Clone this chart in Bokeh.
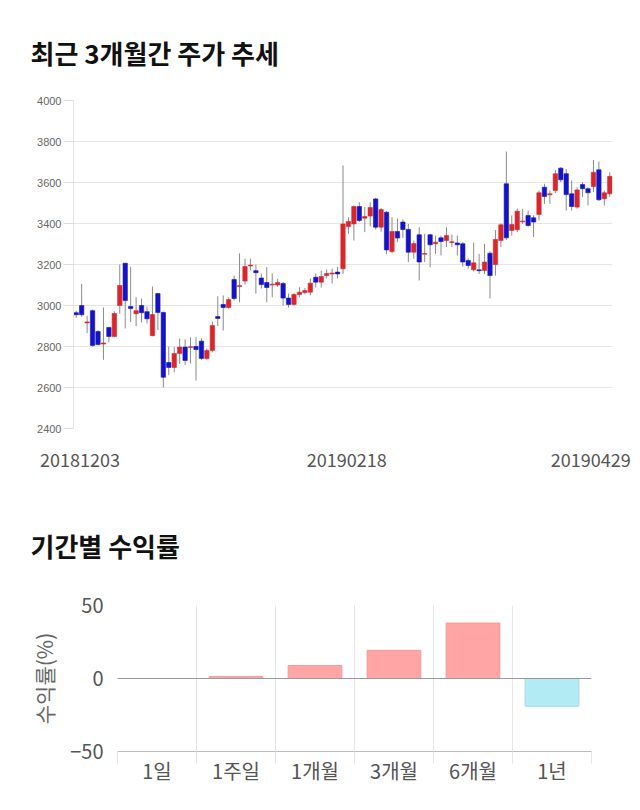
from bokeh.plotting import figure
from bokeh.layouts import column
from bokeh.models import FixedTicker, Span
from bokeh.embed import file_html
from bokeh.resources import INLINE

# ---- price data (daily candles, 2018-12-03 .. 2019-04-29) ----
opens = [2965, 3000, 2915, 2975, 2873, 2812, 2893, 2849, 3000, 3206,
         2995, 2960, 3000, 2970, 2853, 3058, 2966, 2722, 2698, 2766,
         2797, 2795, 2800, 2826, 2742, 2781, 2946, 3005, 2990, 3127,
         3093, 3119, 3193, 3170, 3134, 3112, 3100, 3100, 3107, 3036,
         3005, 3054, 3063, 3065, 3138, 3114, 3146, 3154, 3163, 3179,
         3385, 3398, 3483, 3426, 3436, 3520, 3382, 3455, 3263, 3361,
         3407, 3371, 3260, 3345, 3250, 3345, 3301, 3330, 3317, 3307,
         3305, 3301, 3220, 3174, 3174, 3171, 3255, 3200, 3317, 3594,
         3366, 3369, 3408, 3439, 3428, 3444, 3577, 3540, 3561, 3670,
         3643, 3545, 3480, 3590, 3570, 3580, 3662, 3521, 3545]
highs = [2975, 3105, 2950, 2980, 2880, 2990, 2895, 2972, 3200, 3208,
         3190, 3040, 3034, 2995, 3093, 3060, 2970, 2800, 2797, 2839,
         2835, 2845, 2845, 2840, 2790, 2922, 3045, 3049, 3040, 3146,
         3254, 3229, 3229, 3200, 3156, 3187, 3156, 3130, 3115, 3059,
         3060, 3089, 3085, 3132, 3156, 3171, 3176, 3180, 3187, 3683,
         3431, 3488, 3504, 3480, 3504, 3525, 3475, 3460, 3431, 3424,
         3420, 3398, 3317, 3382, 3350, 3350, 3341, 3341, 3382, 3346,
         3341, 3310, 3230, 3306, 3252, 3301, 3265, 3368, 3400, 3751,
         3439, 3472, 3472, 3463, 3440, 3561, 3594, 3561, 3662, 3675,
         3665, 3610, 3577, 3602, 3577, 3710, 3702, 3560, 3650]
lows = [2940, 2945, 2865, 2800, 2805, 2735, 2820, 2845, 2960, 2888,
        2920, 2900, 2917, 2912, 2850, 2880, 2600, 2660, 2675, 2715,
        2710, 2717, 2634, 2735, 2735, 2771, 2900, 2878, 2985, 3024,
        3015, 3102, 3171, 3058, 3083, 3016, 3040, 3090, 3000, 2990,
        3000, 3040, 3055, 3049, 3088, 3088, 3132, 3107, 3132, 3154,
        3350, 3317, 3407, 3358, 3387, 3370, 3360, 3250, 3255, 3309,
        3330, 3212, 3228, 3122, 3212, 3187, 3252, 3244, 3285, 3285,
        3244, 3190, 3180, 3166, 3154, 3154, 3034, 3146, 3285, 3320,
        3341, 3358, 3398, 3385, 3334, 3415, 3496, 3496, 3548, 3602,
        3463, 3463, 3472, 3529, 3488, 3553, 3510, 3488, 3530]
closes = [2955, 2955, 2920, 2805, 2810, 2817, 2849, 2961, 3098, 3024,
          2985, 2975, 2965, 2935, 2956, 2966, 2650, 2698, 2766, 2797,
          2732, 2799, 2785, 2742, 2781, 2902, 2937, 2990, 3029, 3034,
          3097, 3190, 3197, 3160, 3102, 3088, 3104, 3112, 3036, 3005,
          3054, 3065, 3073, 3109, 3114, 3141, 3156, 3158, 3154, 3398,
          3410, 3483, 3415, 3434, 3478, 3382, 3468, 3271, 3361, 3329,
          3371, 3260, 3302, 3212, 3254, 3296, 3309, 3312, 3341, 3311,
          3296, 3212, 3195, 3208, 3170, 3212, 3146, 3322, 3394, 3330,
          3395, 3460, 3412, 3390, 3407, 3550, 3532, 3545, 3643, 3613,
          3541, 3483, 3564, 3570, 3550, 3650, 3516, 3550, 3630]
price_ticks = [2400, 2600, 2800, 3000, 3200, 3400, 3600, 3800, 4000]
date_tick_index = [0, 49, 98]
date_tick_labels = ["20181203", "20190218", "20190429"]

# ---- period returns ----
periods = ["1일", "1주일", "1개월", "3개월", "6개월", "1년"]
returns = [0.0, 1.3, 8.9, 19.3, 38.0, -19.0]
return_ticks = [-50, 0, 50]

KR = "Noto Sans CJK KR"
UP, DOWN = "#D9262C", "#1414C4"

# ================= candlestick chart =================
n = len(opens)
idx = list(range(n))
p1 = figure(width=640, height=480, x_range=(-0.5, n - 0.5), y_range=(2400, 4000),
            output_backend="svg", toolbar_location=None,
            min_border_left=73, min_border_right=28, min_border_top=100, min_border_bottom=52)
p1.frame_align = False
p1.outline_line_color = None
p1.title.text = "최근 3개월간 주가 추세"
p1.title.text_font = KR
p1.title.text_font_size = "26px"
p1.title.text_font_style = "bold"
p1.title.text_color = "#111111"
p1.title.offset = -43
p1.title.standoff = 60

up = [c >= o for o, c in zip(opens, closes)]
colors = [UP if u else DOWN for u in up]
tops = [max(o, c) for o, c in zip(opens, closes)]
bots = [min(o, c) for o, c in zip(opens, closes)]
p1.segment(x0=idx, y0=lows, x1=idx, y1=highs, line_color="#8a8a8a", line_width=1)
p1.vbar(x=idx, top=tops, bottom=bots, width=0.8, fill_color=colors, line_color=colors, line_width=0.6)

p1.xgrid.visible = False
p1.ygrid.ticker = FixedTicker(ticks=price_ticks)
p1.ygrid.grid_line_color = "#e6e6e6"
ya = p1.yaxis[0]
ya.ticker = FixedTicker(ticks=price_ticks)
ya.major_label_text_font = "Liberation Sans"
ya.major_label_text_font_size = "11px"
ya.major_label_text_color = "#666666"
ya.major_tick_out = 10
ya.major_tick_in = 0
ya.major_tick_line_color = "#dddddd"
ya.minor_tick_line_color = None
ya.axis_line_color = "#e3e3e3"
ya.major_label_standoff = 2

# date labels: placed slightly right of their candle, last one kept inside the window
tick_pos = [min(i + 0.7, n - 1 - 3.5) for i in date_tick_index]
xa = p1.xaxis[0]
xa.ticker = FixedTicker(ticks=tick_pos)
xa.major_label_overrides = {t: s for t, s in zip(tick_pos, date_tick_labels)}
xa.major_label_text_font = KR
xa.major_label_text_font_size = "18px"
xa.major_label_text_color = "#555555"
xa.major_tick_line_color = None
xa.minor_tick_line_color = None
xa.axis_line_color = None
xa.major_label_standoff = 18

# ================= returns bar chart =================
m = len(periods)
centers = [i + 0.5 for i in range(m)]
bounds = list(range(m + 1))
p2 = figure(width=640, height=330, x_range=(0, m), y_range=(-50, 50),
            output_backend="svg", toolbar_location=None,
            min_border_left=117, min_border_right=49, min_border_top=125, min_border_bottom=59)
p2.frame_align = False
p2.outline_line_color = None
p2.title.text = "기간별 수익률"
p2.title.text_font = KR
p2.title.text_font_size = "26px"
p2.title.text_font_style = "bold"
p2.title.text_color = "#111111"
p2.title.offset = -87
p2.title.standoff = 84

fills = ["#FFA5A5" if r >= 0 else "#B3EBF4" for r in returns]
lines = ["#EE9D9D" if r >= 0 else "#A2DAE4" for r in returns]
p2.vbar(x=centers, top=returns, bottom=0, width=0.68, fill_color=fills, line_color=lines, line_width=1)
p2.add_layout(Span(location=0, dimension="width", line_color="#999999", line_width=1))

p2.xgrid.ticker = FixedTicker(ticks=bounds)
p2.xgrid.grid_line_color = "#e6e6e6"
p2.ygrid.ticker = FixedTicker(ticks=return_ticks)
p2.ygrid.grid_line_color = "#e6e6e6"
xb = p2.xaxis[0]
xb.ticker = FixedTicker(ticks=centers, minor_ticks=bounds)
xb.major_label_overrides = {c: s for c, s in zip(centers, periods)}
xb.major_label_text_font = KR
xb.major_label_text_font_size = "20px"
xb.major_label_text_color = "#555555"
xb.major_tick_line_color = None
xb.minor_tick_out = 12
xb.minor_tick_in = 0
xb.minor_tick_line_color = "#e6e6e6"
xb.axis_line_color = "#bbbbbb"
xb.major_label_standoff = -8
yb = p2.yaxis[0]
yb.ticker = FixedTicker(ticks=return_ticks)
yb.major_label_text_font = KR
yb.major_label_text_font_size = "20px"
yb.major_label_text_color = "#555555"
yb.major_tick_line_color = None
yb.minor_tick_line_color = None
yb.axis_line_color = None
yb.major_label_standoff = 8
yb.axis_label = "수익률(%)"
yb.axis_label_text_font = KR
yb.axis_label_text_font_size = "21px"
yb.axis_label_text_font_style = "normal"
yb.axis_label_text_color = "#666666"
yb.axis_label_standoff = 8

layout = column(p1, p2, spacing=0)
open("out.html", "w").write(file_html(layout, INLINE))
